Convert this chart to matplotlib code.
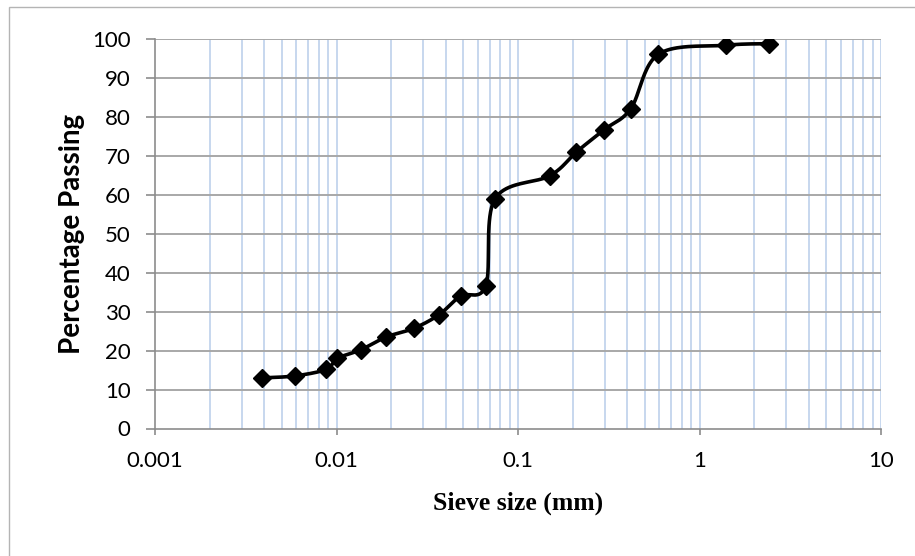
import numpy as np
import matplotlib
matplotlib.use("Agg")
import matplotlib.pyplot as plt
from matplotlib.patches import Rectangle
from matplotlib.ticker import FixedLocator, NullFormatter

# Data
sieve_mm = [0.0039, 0.0059, 0.0088, 0.0101, 0.0136, 0.0188, 0.0266, 0.0367,
            0.0483, 0.0665, 0.0745, 0.150, 0.210, 0.298, 0.418, 0.594, 1.40, 2.42]
passing = [13.0, 13.5, 15.2, 18.0, 20.2, 23.5, 25.7, 29.2,
           34.0, 36.7, 58.9, 64.9, 71.0, 76.7, 82.1, 96.1, 98.4, 98.8]
x_ticks = [0.001, 0.01, 0.1, 1, 10]
x_tick_labels = ["0.001", "0.01", "0.1", "1", "10"]
y_ticks = list(range(0, 101, 10))

def smooth(xs, ys, n=40):
    # Catmull-Rom style Bezier smoothing (Excel-like) in log-x space
    lx = np.log10(xs)
    ys = np.asarray(ys, float)
    pts = np.column_stack([lx, ys])
    out = []
    N = len(pts)
    for i in range(N - 1):
        p0 = pts[i - 1] if i > 0 else pts[i]
        p1 = pts[i]
        p2 = pts[i + 1]
        p3 = pts[i + 2] if i + 2 < N else pts[i + 1]
        c1 = p1 + (p2 - p0) / 6.0
        c2 = p2 - (p3 - p1) / 6.0
        t = np.linspace(0, 1, n)[:, None]
        seg = ((1 - t) ** 3) * p1 + 3 * ((1 - t) ** 2) * t * c1 + 3 * (1 - t) * t ** 2 * c2 + t ** 3 * p2
        out.append(seg if i == 0 else seg[1:])
    out = np.vstack(out)
    return 10 ** out[:, 0], out[:, 1]

fig = plt.figure(figsize=(9.15, 5.56), dpi=100)
W, H = 915, 556
ax = fig.add_axes([155 / W, 1 - 428.5 / H, (881 - 155) / W, (428.5 - 39) / H])

# outer chart border (only top and left edges fall inside the image)
fig.patches.append(Rectangle((8.5 / W, -0.5), 2.0, 1.5 - 6.5 / H,
                             transform=fig.transFigure, fill=False,
                             edgecolor="#b4b4b4", linewidth=1.0))

ax.set_xscale("log")
ax.set_xlim(0.001, 10)
ax.set_ylim(0, 100)

minor = [m * 10.0 ** e for e in range(-3, 1) for m in range(2, 10)]
ax.xaxis.set_minor_locator(FixedLocator(minor))
ax.xaxis.set_minor_formatter(NullFormatter())
ax.set_xticks(x_ticks)
ax.set_xticklabels(x_tick_labels)
ax.set_yticks(y_ticks)

for v in minor + x_ticks[1:]:
    ax.axvline(v, color="#c7d7ee", linewidth=1.4, zorder=0)
for v in y_ticks[1:]:
    ax.axhline(v, color="#a8a8a8", linewidth=1.4, zorder=0.5)

sx, sy = smooth(sieve_mm, passing)
ax.plot(sx, sy, color="black", linewidth=2.6, zorder=3)
ax.plot(sieve_mm, passing, linestyle="none", marker="D", markersize=9,
        color="black", zorder=4)

for s in ["top", "right"]:
    ax.spines[s].set_visible(False)
for s in ["left", "bottom"]:
    ax.spines[s].set_color("#8c8c8c")
    ax.spines[s].set_linewidth(1.2)

ax.tick_params(axis="both", which="major", direction="out",
               width=1.2, color="#8c8c8c", labelsize=16, labelcolor="black")
ax.tick_params(axis="x", which="major", length=4.5, pad=11.5)
ax.tick_params(axis="y", which="major", length=6.5, pad=11)
ax.tick_params(axis="x", which="minor", length=0)
for lab in ax.get_xticklabels() + ax.get_yticklabels():
    lab.set_fontfamily("Lato")

ax.set_ylabel("Percentage Passing", fontfamily="Lato", fontweight="bold",
              fontsize=20, labelpad=5)
ax.set_xlabel("Sieve size (mm)", fontfamily="Liberation Serif", fontweight="bold",
              fontsize=18.5, labelpad=15)

fig.savefig("out.png", dpi=100)
